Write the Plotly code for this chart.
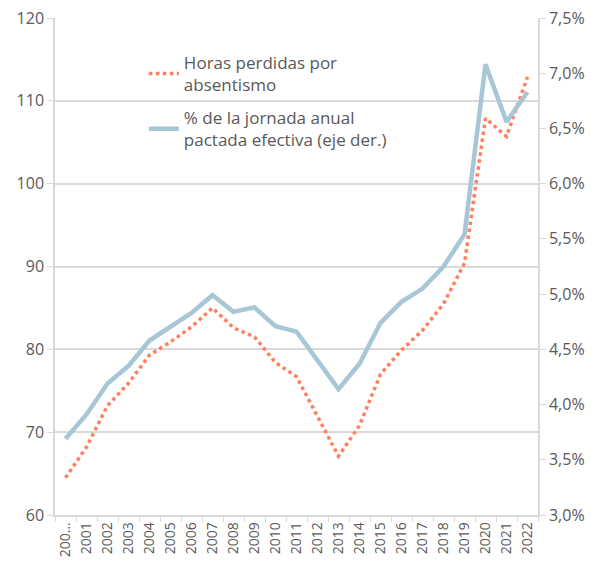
import plotly.graph_objects as go

years = [str(y) for y in range(2000, 2023)]
tick_labels = ["200…"] + [str(y) for y in range(2001, 2023)]

horas_perdidas = [64.5, 68.2, 73.2, 75.9, 79.3, 80.9, 82.7, 85.0, 82.6, 81.5, 78.4, 76.7,
                  71.9, 67.1, 70.8, 77.0, 79.9, 82.3, 85.5, 90.4, 107.9, 105.7, 112.9]
pct_jornada = [0.0369, 0.0391, 0.0419, 0.0435, 0.0458, 0.0470, 0.0483, 0.0499, 0.0484, 0.0488,
               0.0471, 0.0466, 0.0440, 0.0414, 0.0437, 0.0474, 0.0493, 0.0505, 0.0525, 0.0554,
               0.0708, 0.0656, 0.0683]

name_horas = "Horas perdidas por<br>absentismo"
name_pct = "% de la jornada anual<br>pactada efectiva (eje der.)"

ORANGE = "#FF7F5E"
BLUE = "#A7C6D6"
GRID = "#D9D9D9"
TXT = "#595959"
FONT = "Open Sans, sans-serif"

fig = go.Figure()
fig.add_trace(go.Scatter(x=years, y=horas_perdidas, name=name_horas, mode="lines",
                         legendgroup="a",
                         line=dict(color=ORANGE, width=3.5, dash="dot"), yaxis="y"))
fig.add_trace(go.Scatter(x=years, y=pct_jornada, name=name_pct, mode="lines",
                         legendgroup="b",
                         line=dict(color=BLUE, width=4.5), yaxis="y2"))

# white legend box area (covers gridline behind legend, as in the original)
fig.add_shape(type="rect", xref="paper", yref="paper", layer="between",
              x0=0.048, x1=0.776, y0=0.725, y1=0.948,
              fillcolor="white", line=dict(width=0))

# page body adds an 8px offset, so the figure is 8px smaller than the window
fig.update_layout(
    width=585, height=559,
    margin=dict(l=47, r=55, t=10, b=52, autoexpand=False),
    paper_bgcolor="white", plot_bgcolor="white",
    separators=",.",
    font=dict(family=FONT, color=TXT, size=16),
    showlegend=True,
    legend=dict(x=0.184, y=0.946, xanchor="left", yanchor="top",
                bgcolor="rgba(0,0,0,0)", borderwidth=0,
                font=dict(size=17, color=TXT), tracegroupgap=8),
    xaxis=dict(type="category", tickmode="array", tickvals=years, ticktext=tick_labels,
               tickangle=-90, tickfont=dict(size=14), automargin=False,
               ticklabeloverflow="allow",
               showline=True, linecolor=GRID, linewidth=1.5,
               ticks="outside", tickson="boundaries", ticklen=5, tickcolor=GRID,
               showgrid=False, range=[-0.5, 22.5]),
    yaxis=dict(range=[60, 120], dtick=10, showgrid=True, gridcolor=GRID, gridwidth=1.5,
               showline=True, linecolor=GRID, linewidth=1.5, automargin=False,
               ticklabeloverflow="allow",
               ticks="outside", ticklen=6, tickcolor=GRID, zeroline=False),
    yaxis2=dict(range=[0.03, 0.075], dtick=0.005, tickformat=".1%", overlaying="y",
                side="right", showgrid=False, showline=True, linecolor=GRID, linewidth=1.5,
                automargin=False, ticklabeloverflow="allow",
                ticks="outside", ticklen=6, tickcolor=GRID, zeroline=False),
)

fig.write_html("out.html")
